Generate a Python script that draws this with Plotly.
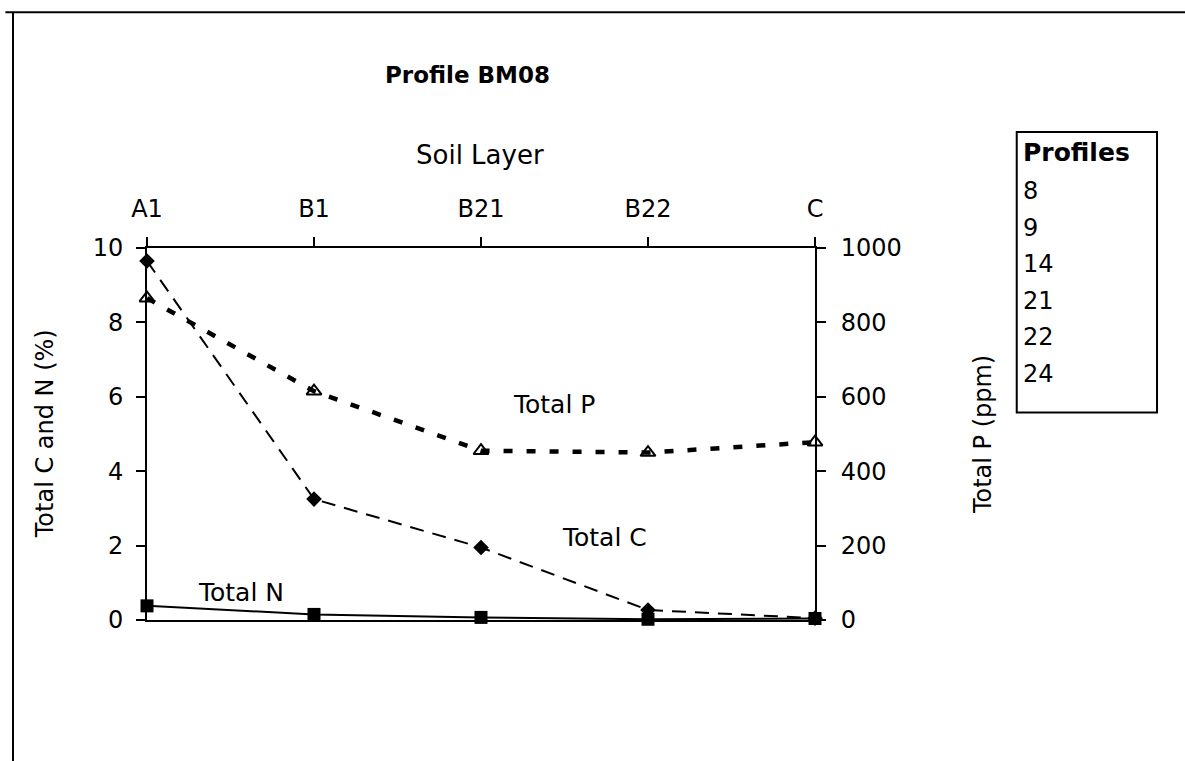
import plotly.graph_objects as go

# Soil layers down the profile
layers = ["A1", "B1", "B21", "B22", "C"]

# Measured totals per layer
total_c = [9.65, 3.25, 1.95, 0.27, 0.05]   # %
total_n = [0.38, 0.15, 0.07, 0.02, 0.04]   # %
total_p = [865, 615, 455, 450, 478]        # ppm

profiles = ["8", "9", "14", "21", "22", "24"]

FONT = "DejaVu Sans, Arial, sans-serif"
INK = "black"

fig = go.Figure()

fig.add_trace(go.Scatter(
    x=layers, y=total_n, mode="lines+markers", name="Total N",
    line=dict(color=INK, width=2),
    marker=dict(symbol="square", size=13, color=INK),
    yaxis="y", xaxis="x", cliponaxis=False,
))
fig.add_trace(go.Scatter(
    x=layers, y=total_c, mode="lines+markers", name="Total C",
    line=dict(color=INK, width=2, dash="14px,9px"),
    marker=dict(symbol="diamond", size=12, color=INK),
    yaxis="y", xaxis="x", cliponaxis=False,
))
fig.add_trace(go.Scatter(
    x=layers, y=total_p, mode="lines+markers", name="Total P",
    line=dict(color=INK, width=4.5, dash="9px,14px"),
    marker=dict(symbol="triangle-up-open", size=13, color=INK,
                line=dict(width=2, color=INK)),
    yaxis="y2", xaxis="x", cliponaxis=False,
))

tick_style = dict(
    showgrid=False, zeroline=False, linecolor=INK, linewidth=2,
    tickcolor=INK, tickwidth=1.5, ticklen=9,
)
label_font = dict(family=FONT, size=24, color=INK)

fig.update_layout(
    width=1185, height=761,
    margin=dict(l=147, r=370, t=248, b=141),
    paper_bgcolor="white", plot_bgcolor="white",
    showlegend=False,
    font=dict(family=FONT, color=INK),
    xaxis=dict(
        **tick_style, tickfont=label_font, type="category",
        categoryorder="array", categoryarray=layers, range=[0, 4],
        side="top", showline=True, mirror=True, ticks="outside",
        ticklabelstandoff=10,
    ),
    xaxis2=dict(
        **tick_style, overlaying="x", side="top", range=[0, 4], dtick=1,
        showline=False, ticks="inside", showticklabels=False,
    ),
    yaxis=dict(
        **tick_style, tickfont=label_font, range=[0, 10], dtick=2,
        showline=True, ticks="outside", ticklabelstandoff=8,
    ),
    yaxis3=dict(
        **tick_style, overlaying="y", side="left", range=[0, 10], dtick=2,
        showline=False, ticks="inside", showticklabels=False,
    ),
    yaxis2=dict(
        **tick_style, tickfont=label_font, overlaying="y", side="right",
        range=[0, 1000], dtick=200, showline=True, ticks="outside",
        ticklabelstandoff=10,
    ),
    yaxis4=dict(
        **tick_style, overlaying="y", side="right", range=[0, 1000],
        dtick=200, showline=False, ticks="inside", showticklabels=False,
    ),
)


def paper_text(text, x, y, size, angle=0, xanchor="center"):
    return dict(text=text, x=x, y=y, xref="paper", yref="paper",
                xanchor=xanchor, yanchor="middle", textangle=angle,
                showarrow=False, font=dict(family=FONT, size=size, color=INK))


def series_text(text, x, y):
    return dict(text=text, x=x, y=y, xref="x", yref="y",
                xanchor="center", yanchor="middle", showarrow=False,
                font=dict(family=FONT, size=25, color=INK))


annotations = [
    paper_text("<b>Profile BM08</b>", 0.4805, 1.465, 23),
    paper_text("Soil Layer", 0.4985, 1.25, 26),
    paper_text("Total C and N (%)", -0.1527, 0.502, 24, angle=-90),
    paper_text("Total P (ppm)", 1.2515, 0.497, 24, angle=-90),
    # Series labels placed next to their lines
    series_text("Total P", 2.44, 5.78),
    series_text("Total C", 2.74, 2.23),
    series_text("Total N", 0.56, 0.75),
]

# Profiles key box
box_x0, box_x1 = 1.302, 1.512
box_y0, box_y1 = 0.558, 1.312
annotations.append(paper_text("<b>Profiles</b>", box_x0 + 0.006,
                              (620 - 152) / 372, 25, xanchor="left"))
for i, p in enumerate(profiles):
    annotations.append(paper_text(p, box_x0 + 0.006,
                                  (620 - 191 - 36.6 * i) / 372, 24,
                                  xanchor="left"))

fig.update_layout(annotations=annotations)

fig.update_layout(shapes=[
    dict(type="rect", xref="paper", yref="paper",
         x0=box_x0, x1=box_x1, y0=box_y0, y1=box_y1,
         line=dict(color=INK, width=2)),
    # outer page frame: top and left rules
    dict(type="line", xref="paper", yref="paper",
         x0=-0.212, x1=1.56, y0=1.634, y1=1.634,
         line=dict(color=INK, width=2)),
    dict(type="line", xref="paper", yref="paper",
         x0=-0.2006, x1=-0.2006, y0=1.634, y1=-0.38,
         line=dict(color=INK, width=2)),
])

fig.write_html("out.html")
